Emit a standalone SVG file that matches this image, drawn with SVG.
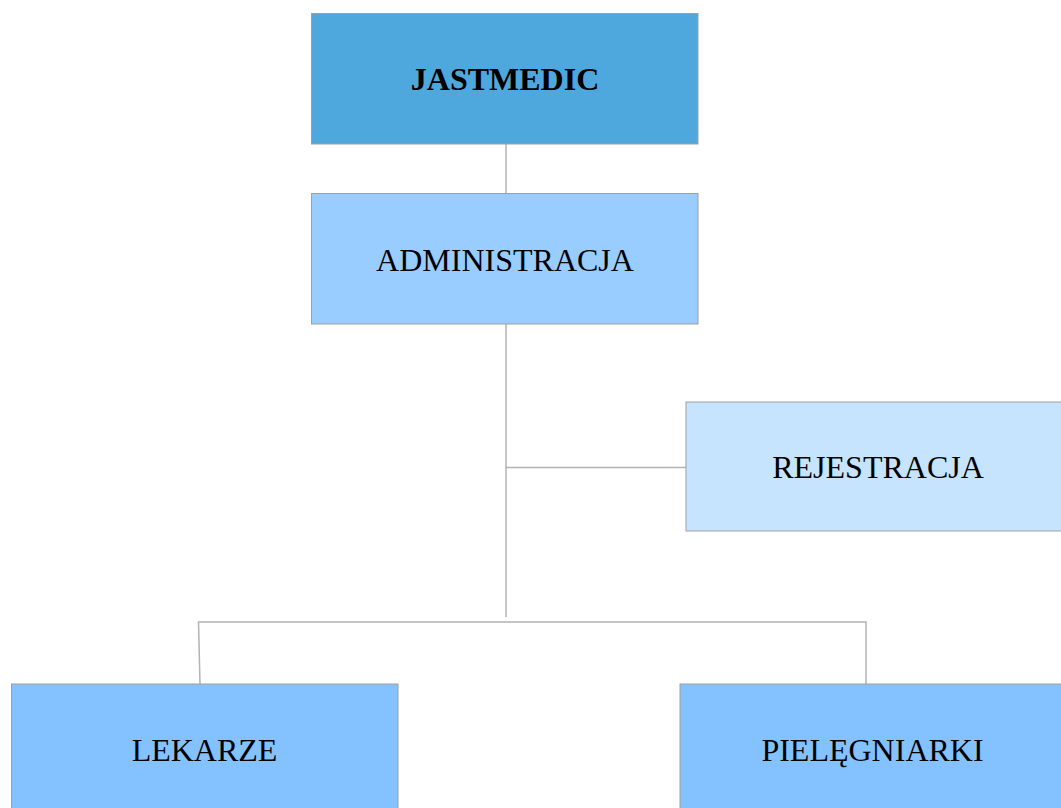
<svg xmlns="http://www.w3.org/2000/svg" width="1061" height="808" viewBox="0 0 1061 808">
<style>
.box{stroke:#a0a0a0;stroke-width:1}
.t{font-family:"Liberation Serif","Times New Roman",serif;font-size:32px;fill:#000;text-anchor:middle}
.b{font-weight:bold}
.c{stroke:#b3b3b3;stroke-width:1.5;fill:none}
</style>
<rect width="1061" height="808" fill="#fff"/>
<g id="connectors">
<line class="c" x1="506" y1="144" x2="506" y2="193.5"/>
<line class="c" x1="506" y1="324" x2="506" y2="617"/>
<line class="c" x1="506" y1="467.5" x2="686" y2="467.5"/>
<polyline class="c" points="200,684 198.5,622 866,622 866,684"/>
</g>
<g id="jastmedic">
<rect class="box" x="311.5" y="13.5" width="386.5" height="130.5" fill="#4fa8dd"/>
<text class="t b" x="505" y="90">JASTMEDIC</text>
</g>
<g id="administracja">
<rect class="box" x="311.5" y="193.5" width="386.5" height="130.5" fill="#99ccff"/>
<text class="t" x="505" y="271">ADMINISTRACJA</text>
</g>
<g id="rejestracja">
<rect class="box" x="686" y="402" width="386.5" height="129" fill="#c6e4fd"/>
<text class="t" x="878" y="478">REJESTRACJA</text>
</g>
<g id="lekarze">
<rect class="box" x="11.5" y="684" width="386.5" height="130" fill="#84c1ff"/>
<text class="t" x="204.5" y="761">LEKARZE</text>
</g>
<g id="pielegniarki">
<rect class="box" x="680" y="684" width="386.5" height="130" fill="#84c1ff"/>
<text class="t" x="872.5" y="761">PIELĘGNIARKI</text>
</g>
</svg>
